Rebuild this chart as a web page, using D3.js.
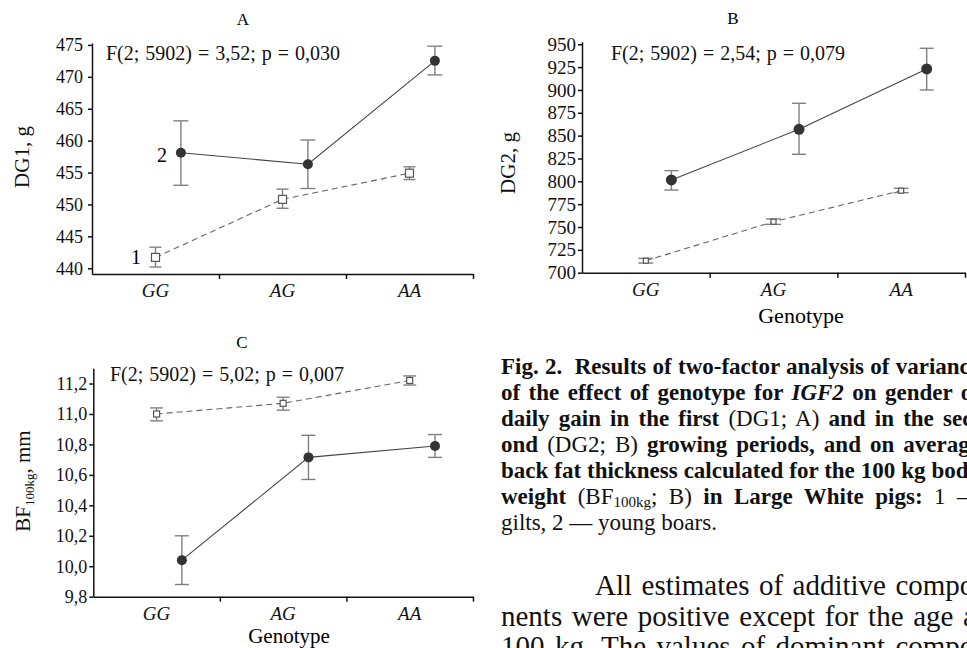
<!DOCTYPE html>
<html lang="en">
<head>
<meta charset="UTF-8">
<title>Fig. 2</title>
<style>
  body { margin: 0; background: #fff; }
  svg { display: block; }
  svg text { font-family: "Liberation Serif", "Times New Roman", serif; }
  .axis path, .axis line { stroke: #111; stroke-width: 1.5; }
  .axis text { fill: #111; }
</style>
</head>
<body>
<svg id="fig" width="967" height="648"></svg>
<script src="https://d3js.org/d3.v7.min.js"></script>
<script>
// genotypes on the x axis
var genotypes = ["GG", "AG", "AA"];

// A: daily gain, first period (g)
var dg1Gilts   = [441.7, 450.8, 454.9];
var dg1GiltsLo = [440.2, 449.4, 453.9];
var dg1GiltsHi = [443.3, 452.4, 455.9];
var dg1Boars   = [458.1, 456.3, 472.5];
var dg1BoarsLo = [453.0, 452.5, 470.3];
var dg1BoarsHi = [463.1, 460.1, 474.8];
var dg1Ticks   = [440, 445, 450, 455, 460, 465, 470, 475];

// B: daily gain, second period (g)
var dg2Gilts   = [713.1, 755.8, 789.8];
var dg2GiltsLo = [710.6, 752.9, 787.6];
var dg2GiltsHi = [715.7, 758.8, 792.3];
var dg2Boars   = [801.5, 856.9, 923.0];
var dg2BoarsLo = [790.5, 829.6, 900.0];
var dg2BoarsHi = [811.7, 885.4, 945.6];
var dg2Ticks   = [700, 725, 750, 775, 800, 825, 850, 875, 900, 925, 950];

// C: back fat at 100 kg (mm)
var bfGilts   = [11.00, 11.07, 11.22];
var bfGiltsLo = [10.955, 11.025, 11.19];
var bfGiltsHi = [11.04, 11.11, 11.25];
var bfBoars   = [10.04, 10.715, 10.79];
var bfBoarsLo = [9.88, 10.57, 10.715];
var bfBoarsHi = [10.20, 10.86, 10.865];
var bfTicks   = [9.8, 10.0, 10.2, 10.4, 10.6, 10.8, 11.0, 11.2];

var serif = "Liberation Serif, Times New Roman, serif";
var svg = d3.select("#fig").attr("font-family", serif);

function drawPanel(p) {
    var g = svg.append("g");

    var x = d3.scaleBand().domain(genotypes).range([p.x0, p.x1]).padding(0);
    var y = d3.scaleLinear().domain(p.domain).range([p.yBottom, p.yTop]);
    var bw = x.bandwidth();

    // y axis
    g.append("g")
        .attr("class", "axis")
        .attr("transform", "translate(" + p.x0 + ",0)")
        .call(d3.axisLeft(y).tickValues(p.ticks).tickFormat(p.fmt)
            .tickSize(4).tickSizeOuter(0).tickPadding(p.pad))
        .attr("font-family", serif)
        .selectAll("text")
        .attr("font-size", p.tickFont);

    // x axis: labels at band centres, tick marks at band edges
    var xa = g.append("g")
        .attr("class", "axis")
        .attr("transform", "translate(0," + p.yBottom + ")")
        .call(d3.axisBottom(x).tickSize(0).tickSizeOuter(0).tickPadding(10))
        .attr("font-family", serif);
    xa.selectAll("text")
        .attr("font-size", 19)
        .attr("font-style", "italic");
    var edges = d3.scaleLinear().domain([0, 3]).range([p.x0, p.x1]);
    g.append("g")
        .attr("class", "axis")
        .attr("transform", "translate(0," + p.yBottom + ")")
        .call(d3.axisBottom(edges).tickValues([1, 2, 3]).tickFormat("")
            .tickSize(5).tickSizeOuter(0))
        .select(".domain").remove();

    var series = [
        { v: p.gilts, lo: p.giltsLo, hi: p.giltsHi, off: 0.5, cap: p.capG, dash: "6,4", open: true },
        { v: p.boars, lo: p.boarsLo, hi: p.boarsHi, off: 0.7, cap: p.capB, dash: null, open: false }
    ];

    series.forEach(function (s) {
        var pts = genotypes.map(function (k, i) {
            return { x: x(k) + bw * s.off, v: s.v[i], lo: s.lo[i], hi: s.hi[i] };
        });

        g.append("path")
            .datum(pts)
            .attr("fill", "none")
            .attr("stroke", s.open ? "#666" : "#444")
            .attr("stroke-width", 1.1)
            .attr("stroke-dasharray", s.dash)
            .attr("d", d3.line().x(function (d) { return d.x; }).y(function (d) { return y(d.v); }));

        var eb = g.selectAll(null).data(pts).enter().append("g")
            .attr("stroke", "#808080")
            .attr("stroke-width", 1.4);
        eb.append("line")
            .attr("x1", function (d) { return d.x; }).attr("x2", function (d) { return d.x; })
            .attr("y1", function (d) { return y(d.lo); }).attr("y2", function (d) { return y(d.hi); });
        eb.append("line")
            .attr("x1", function (d) { return d.x - s.cap / 2; }).attr("x2", function (d) { return d.x + s.cap / 2; })
            .attr("y1", function (d) { return y(d.lo); }).attr("y2", function (d) { return y(d.lo); });
        eb.append("line")
            .attr("x1", function (d) { return d.x - s.cap / 2; }).attr("x2", function (d) { return d.x + s.cap / 2; })
            .attr("y1", function (d) { return y(d.hi); }).attr("y2", function (d) { return y(d.hi); });

        if (s.open) {
            g.selectAll(null).data(pts).enter().append("rect")
                .attr("x", function (d) { return d.x - p.sq / 2; })
                .attr("y", function (d) { return y(d.v) - p.sq / 2; })
                .attr("width", p.sq).attr("height", p.sq)
                .attr("fill", "#fff").attr("stroke", "#555").attr("stroke-width", 1.2);
        } else {
            g.selectAll(null).data(pts).enter().append("circle")
                .attr("cx", function (d) { return d.x; })
                .attr("cy", function (d) { return y(d.v); })
                .attr("r", p.r)
                .attr("fill", "#333");
        }
    });

    // panel letter and F-test note
    g.append("text").attr("x", p.titleX).attr("y", p.titleY)
        .attr("text-anchor", "middle").attr("font-size", 17).text(p.title);
    g.append("text").attr("x", p.noteX).attr("y", p.noteY)
        .attr("font-size", 20).attr("fill", "#111").attr("word-spacing", 1).text(p.note);

    // y label
    var yl = g.append("text")
        .attr("transform", "translate(" + p.ylX + "," + p.ylY + ") rotate(-90)")
        .attr("text-anchor", "middle").attr("font-size", 21).attr("fill", "#111");
    p.ylabel(yl);
}

var fmtComma = function (d) { return d3.format(".1f")(d).replace(".", ","); };

drawPanel({
    x0: 92, x1: 473, yTop: 43, yBottom: 274, domain: [439.1, 475.3],
    ticks: dg1Ticks, fmt: d3.format("d"), pad: 5, tickFont: 18,
    gilts: dg1Gilts, giltsLo: dg1GiltsLo, giltsHi: dg1GiltsHi,
    boars: dg1Boars, boarsLo: dg1BoarsLo, boarsHi: dg1BoarsHi,
    capG: 12, capB: 15, sq: 8, r: 5,
    title: "A", titleX: 243, titleY: 25,
    note: "F(2; 5902) = 3,52; p = 0,030", noteX: 106, noteY: 60,
    ylX: 29, ylY: 157,
    ylabel: function (t) { t.text("DG1, g"); }
});

drawPanel({
    x0: 582, x1: 965, yTop: 41.7, yBottom: 272.7, domain: [700, 952.8],
    ticks: dg2Ticks, fmt: d3.format("d"), pad: 2, tickFont: 19,
    gilts: dg2Gilts, giltsLo: dg2GiltsLo, giltsHi: dg2GiltsHi,
    boars: dg2Boars, boarsLo: dg2BoarsLo, boarsHi: dg2BoarsHi,
    capG: 15, capB: 14, sq: 5, r: 5.5,
    title: "B", titleX: 733, titleY: 24,
    note: "F(2; 5902) = 2,54; p = 0,079", noteX: 611, noteY: 60,
    ylX: 515, ylY: 163,
    ylabel: function (t) { t.text("DG2, g"); }
});

drawPanel({
    x0: 93.3, x1: 473, yTop: 368.3, yBottom: 596.7, domain: [9.8, 11.3],
    ticks: bfTicks, fmt: fmtComma, pad: 2, tickFont: 18,
    gilts: bfGilts, giltsLo: bfGiltsLo, giltsHi: bfGiltsHi,
    boars: bfBoars, boarsLo: bfBoarsLo, boarsHi: bfBoarsHi,
    capG: 13, capB: 14, sq: 6, r: 5,
    title: "C", titleX: 242, titleY: 348,
    note: "F(2; 5902) = 5,02; p = 0,007", noteX: 110, noteY: 381,
    ylX: 30, ylY: 481,
    ylabel: function (t) {
        t.append("tspan").text("BF");
        t.append("tspan").attr("font-size", 13).attr("dy", 4).text("100kg");
        t.append("tspan").attr("dy", -4).text(", mm");
    }
});

// series labels in panel A
svg.append("text").attr("x", 162).attr("y", 162).attr("text-anchor", "middle")
    .attr("font-size", 20).text("2");
svg.append("text").attr("x", 136).attr("y", 264).attr("text-anchor", "middle")
    .attr("font-size", 20).text("1");

// x titles
svg.append("text").attr("x", 801).attr("y", 323).attr("text-anchor", "middle")
    .attr("font-size", 22).text("Genotype");
svg.append("text").attr("x", 289).attr("y", 643).attr("text-anchor", "middle")
    .attr("font-size", 21).text("Genotype");

// stretch word gaps so a line ends at a given x (justified text of the scan)
function justify(t, right) {
    var w = t.node().getComputedTextLength();
    var n = (t.text().match(/ /g) || []).length;
    if (n) t.attr("word-spacing", (right - (+t.attr("x")) - w) / n);
}

// caption (runs past the right edge, as in the scan)
var capLines = [
    [["b", "Fig. 2.  Results of two-factor analysis of variance"]],
    [["b", "of the effect of genotype for "], ["bi", "IGF2"], ["b", " on gender of"]],
    [["b", "daily gain in the first "], ["r", "(DG1; A)"], ["b", " and in the sec-"]],
    [["b", "ond "], ["r", "(DG2; B)"], ["b", " growing periods, and on average"]],
    [["b", "back fat thickness calculated for the 100 kg body"]],
    [["b", "weight "], ["r", "(BF"], ["sub", "100kg"], ["r", "; B)"], ["b", " in Large White pigs: "], ["r", "1 —"]],
    [["r", "gilts, 2 — young boars."]]
];
var cap = svg.append("g").attr("font-size", 23).attr("fill", "#111");
capLines.forEach(function (line, i) {
    var t = cap.append("text").attr("x", 501).attr("y", 374 + i * 26).attr("xml:space", "preserve");
    line.forEach(function (seg) {
        var ts = t.append("tspan").text(seg[1]);
        if (seg[0] === "b" || seg[0] === "bi") ts.attr("font-weight", "bold");
        if (seg[0] === "bi") ts.attr("font-style", "italic");
        if (seg[0] === "sub") ts.attr("font-size", 15).attr("baseline-shift", "-3");
    });
    if (i < capLines.length - 1) justify(t, 980);
});

// running text
var bodyLines = [
    { x: 595, t: "All estimates of additive compo-" },
    { x: 501, t: "nents were positive except for the age at" },
    { x: 501, t: "100 kg. The values of dominant compo-" }
];
svg.append("g").attr("font-size", 29).attr("fill", "#111")
    .selectAll("text").data(bodyLines).enter().append("text")
    .attr("x", function (d) { return d.x; })
    .attr("y", function (d, i) { return 595 + i * 30.5; })
    .text(function (d) { return d.t; })
    .each(function () { justify(d3.select(this), 984); });
</script>
</body>
</html>
